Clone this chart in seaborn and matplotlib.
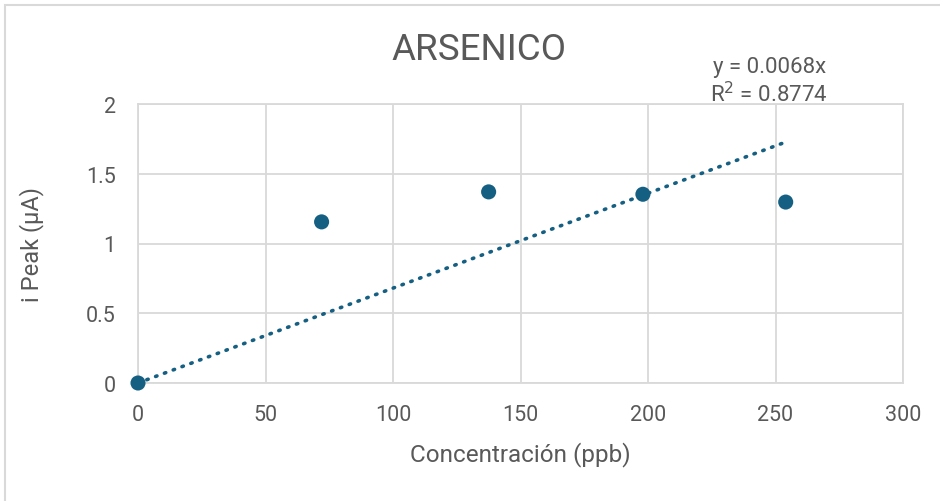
import matplotlib
matplotlib.use("Agg")
import matplotlib.pyplot as plt
import seaborn as sns
import pandas as pd
from matplotlib.patches import Rectangle

conc = [0, 72, 137.5, 198, 254]
ipeak = [0, 1.155, 1.37, 1.353, 1.297]
slope = 0.0068
r2 = 0.8774
x_ticks = [0, 50, 100, 150, 200, 250, 300]
y_ticks = [0, 0.5, 1, 1.5, 2]

sns.set_theme(style="white")
plt.rcParams['font.family'] = ['Roboto', 'DejaVu Sans']

text_color = "#595959"
mark_color = "#156082"

fig = plt.figure(figsize=(9.4, 5.02), dpi=100)
ax = fig.add_axes([138/940, 1-384/502, (903-138)/940, (384-105)/502])

df = pd.DataFrame({"x": conc, "y": ipeak})
trend = pd.DataFrame({"x": [0, max(conc)], "y": [0, slope*max(conc)]})

sns.lineplot(data=trend, x="x", y="y", ax=ax, color=mark_color, lw=2.6,
             linestyle=(0, (0.4, 2.2)), dash_capstyle="round", zorder=2)
sns.scatterplot(data=df, x="x", y="y", ax=ax, color=mark_color, s=118,
                edgecolor="none", zorder=3, clip_on=False)

ax.set_xlim(0, 300)
ax.set_ylim(0, 2)
ax.set_xticks(x_ticks)
ax.set_yticks(y_ticks)
ax.set_xticklabels([str(t) for t in x_ticks])
ax.set_yticklabels([("%g" % t) for t in y_ticks])
ax.grid(True, color="#d9d9d9", lw=1.3)
ax.set_axisbelow(True)
for s in ["top", "right", "left", "bottom"]:
    ax.spines[s].set_color("#d9d9d9")
    ax.spines[s].set_linewidth(1.3)
ax.tick_params(axis="both", colors=text_color, labelsize=15.5, length=0)
ax.tick_params(axis="x", pad=15)
ax.tick_params(axis="y", pad=16)

ax.set_xlabel("Concentración (ppb)", color=text_color, fontsize=17.5)
ax.xaxis.set_label_coords(0.5, (384-455)/279)
ax.xaxis.label.set_va("center")
ax.set_ylabel("i Peak (µA)", color=text_color, fontsize=17)
ax.yaxis.set_label_coords((32-138)/765, 0.5)
ax.yaxis.label.set_va("center")
fig.text(479/940, 1-50/502, "ARSENICO", color=text_color,
         fontsize=26.5, ha="center", va="center")

ax.text(247.5, 2.27, "y = 0.0068x", color=text_color, fontsize=16, ha="center", va="center")
ax.text(247.5, 2.075, "R$^2$ = %.4f" % r2, color=text_color, fontsize=16, ha="center", va="center")

fig.patches.append(Rectangle((5/940, -0.1), 1.1, 1-6/502+0.1, transform=fig.transFigure,
                             fill=False, edgecolor="#d9d9d9", lw=1.5, zorder=0))

fig.savefig("out.png", dpi=100)
